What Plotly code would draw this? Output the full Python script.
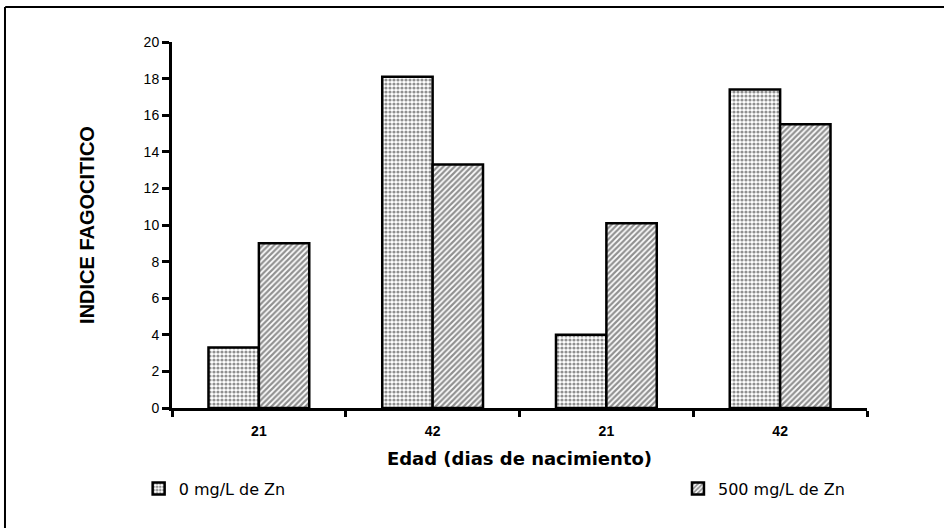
import plotly.graph_objects as go

categories = ["21", "42", "21", "42"]
positions = [0, 1, 2, 3]
series_names = ["0 mg/L de Zn", "500 mg/L de Zn"]
zn0_values = [3.3, 18.1, 4.0, 17.4]
zn500_values = [9.0, 13.3, 10.1, 15.5]
y_ticks = [0, 2, 4, 6, 8, 10, 12, 14, 16, 18, 20]
boundaries = [-0.5, 0.5, 1.5, 2.5, 3.5]

FONT = "Arial, 'Liberation Sans', sans-serif"
WIDE = "'DejaVu Sans', Arial, sans-serif"

fig = go.Figure()
fig.add_trace(go.Bar(
    x=positions, y=zn0_values, name=series_names[0], legend="legend",
    marker=dict(color="white", line=dict(color="black", width=2.5),
                pattern=dict(shape=".", size=4, solidity=0.5, fgcolor="#222", bgcolor="white")),
))
fig.add_trace(go.Bar(
    x=positions, y=zn500_values, name=series_names[1], legend="legend2",
    marker=dict(color="white", line=dict(color="black", width=2.5),
                pattern=dict(shape="/", size=4, solidity=0.55, fgcolor="#222", bgcolor="white")),
))

legend_common = dict(orientation="h", y=-0.22, xanchor="left", yanchor="middle",
                     font=dict(size=16, family=WIDE), itemwidth=30,
                     bgcolor="rgba(0,0,0,0)")

fig.update_layout(
    width=944, height=528,
    margin=dict(l=172, r=77, t=42, b=120, autoexpand=False),
    paper_bgcolor="white", plot_bgcolor="white",
    barmode="group", bargap=0.42, bargroupgap=0,
    font=dict(family=FONT, color="black"),
    showlegend=True,
    legend=dict(x=-0.048, **legend_common),
    legend2=dict(x=0.728, **legend_common),
    xaxis=dict(
        range=[-0.5, 3.5], tickmode="array", tickvals=positions, ticktext=categories,
        ticks="", showline=True, linecolor="black", linewidth=3, showgrid=False, zeroline=False,
        automargin=False, ticklabelstandoff=8,
        tickfont=dict(size=14, family=FONT, weight="bold"),
        minor=dict(tickmode="array", tickvals=boundaries, ticks="outside", ticklen=6,
                   tickwidth=3, tickcolor="black", showgrid=False),
        title=dict(text="Edad (dias de nacimiento)", font=dict(size=18, family=WIDE, weight="bold"),
                   standoff=15),
    ),
    yaxis=dict(
        range=[0, 20], tickmode="array", tickvals=y_ticks, ticks="outside", ticklen=7,
        tickwidth=3, tickcolor="black", showline=True, linecolor="black", linewidth=3,
        showgrid=False, zeroline=False, automargin=False,
        tickfont=dict(size=14, family=FONT),
        title=dict(text="INDICE FAGOCITICO", font=dict(size=20, family=FONT, weight="bold"),
                   standoff=44),
    ),
    shapes=[
        dict(type="line", xref="paper", yref="paper", x0=-0.24, x1=1.12, y0=1.0956, y1=1.0956,
             line=dict(color="black", width=2)),
        dict(type="line", xref="paper", yref="paper", x0=-0.2403, x1=-0.2403, y0=1.0956, y1=-0.35,
             line=dict(color="black", width=2)),
    ],
)

fig.write_html("out.html", config={"displayModeBar": False},
               post_script="document.body.style.margin='0';document.body.style.overflow='hidden';")
